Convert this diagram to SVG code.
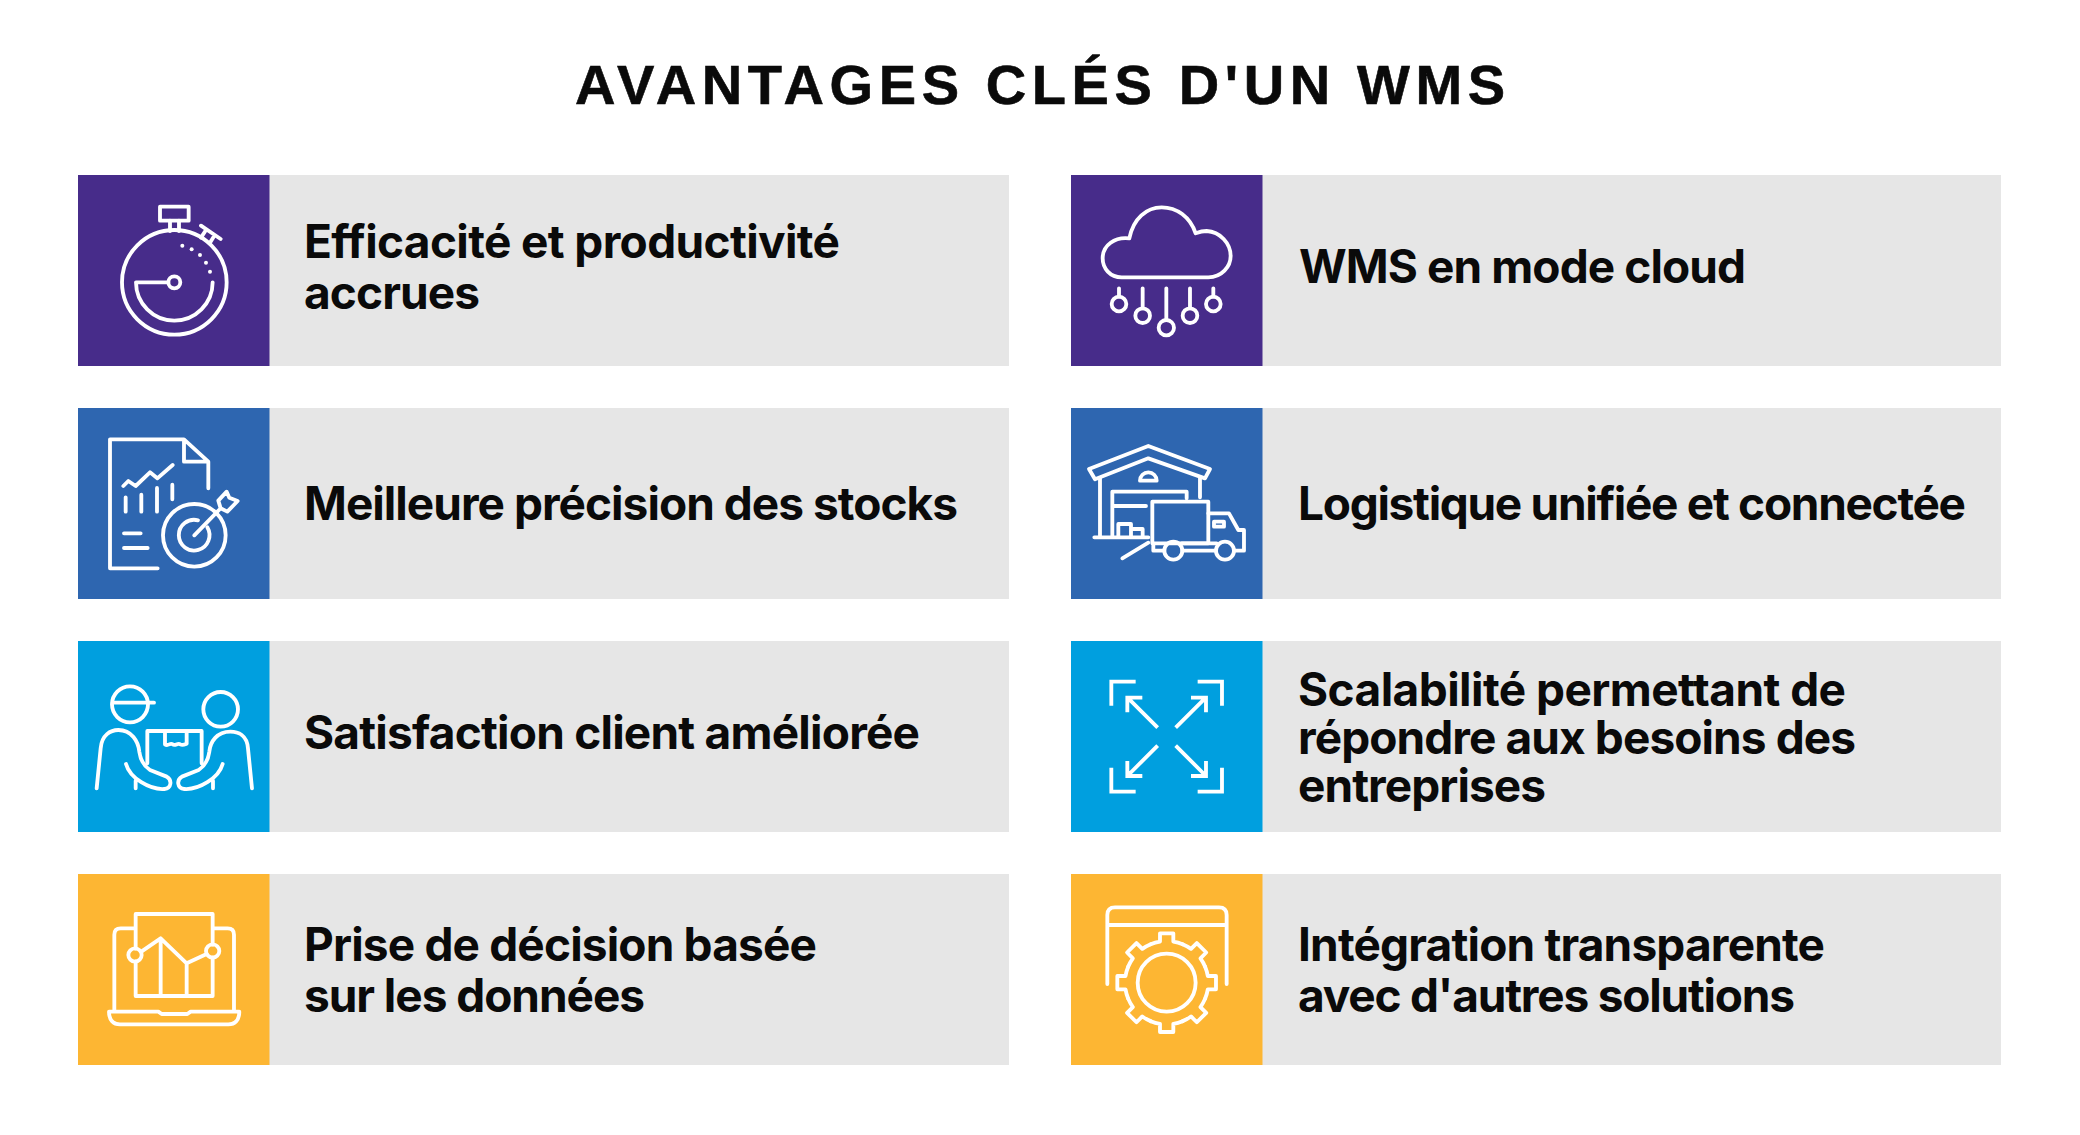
<svg xmlns="http://www.w3.org/2000/svg" xmlns:xlink="http://www.w3.org/1999/xlink" width="2080" height="1135" viewBox="0 0 2080 1135">
<style>
.bar{fill:#e6e6e6}
.p{fill:#472c8a}.b{fill:#2e66b0}.c{fill:#009fdf}.y{fill:#fdb633}
.t{font-family:"Inter","Liberation Sans",sans-serif;font-weight:700;font-size:46px;fill:#0a0a0a}
.h{font-family:"Liberation Sans",Arial,sans-serif;font-weight:700;font-size:56px;fill:#0a0a0a;stroke:#0a0a0a;stroke-width:.6}
.i{fill:none;stroke:#fff;stroke-width:11.500;stroke-linecap:round;stroke-linejoin:round}
.s{stroke-linecap:butt;stroke-linejoin:miter}
.d{fill:#fff;stroke:none}
</style>
<defs>
<path id="tooth" d="M-47.8-115.5A125 125 0 0 1-20-123.4V-148H20V-123.4A125 125 0 0 1 47.8-115.5"/>
</defs>
<rect width="2080" height="1135" fill="#fff"/>
<text class="h" x="575" y="104" textLength="930">AVANTAGES CLÉS D'UN WMS</text>

<g id="node-efficacite">
<rect class="bar" x="269" y="175" width="740" height="191"/>
<rect class="p" x="78" y="175" width="191.500" height="191"/>
<text class="t" x="304" y="258" textLength="536">Efficacité et productivité</text>
<text class="t" x="304" y="309" textLength="176">accrues</text>
<g transform="translate(70 170) scale(.3333)" class="i">
<circle cx="313" cy="337" r="157"/>
<rect x="270" y="110" width="86" height="42"/>
<path d="M300 152V183M327 152V183M393 167L452 207M408 180L393 203M433 197L420 218M198 337H295M198 337A115 115 0 0 0 428 337"/>
<circle cx="313" cy="337" r="18"/>
<circle class="d" cx="337" cy="227" r="6"/><circle class="d" cx="365" cy="238" r="6"/><circle class="d" cx="390" cy="255" r="6"/><circle class="d" cx="408" cy="278" r="6"/><circle class="d" cx="420" cy="305" r="6"/>
</g>
</g>

<g id="node-precision">
<rect class="bar" x="269" y="408" width="740" height="191"/>
<rect class="b" x="78" y="408" width="191.500" height="191"/>
<text class="t" x="304" y="520" textLength="654">Meilleure précision des stocks</text>
<g transform="translate(70 400) scale(.3333)" class="i">
<path d="M415 265V185L342 118H120V505H263M342 118V185H415"/>
<path d="M160 258L175 243L197 258L240 217L262 235L308 195M167 292V335M214 284V335M261 264V335M307 254V298M162 400H212M162 444H233"/>
<circle cx="373" cy="406" r="94"/>
<path d="M412 382A46 46 0 1 1 384 361"/>
<path d="M373 406L450 327M445 302L470 275L478 293L503 303L472 335L452 325Z"/>
</g>
</g>

<g id="node-satisfaction">
<rect class="bar" x="269" y="641" width="740" height="191"/>
<rect class="c" x="78" y="641" width="191.500" height="191"/>
<text class="t" x="304" y="749" textLength="616">Satisfaction client améliorée</text>
<g transform="translate(70 635) scale(.3333)" class="i">
<circle cx="180" cy="208" r="54"/>
<path d="M128 203H252"/>
<circle cx="452" cy="223" r="52"/>
<path id="arm" d="M80 460L92 340C95 300 122 285 145 285C185 285 205 320 208 350C212 380 225 395 240 405L290 425C307 435 305 460 283 462C240 465 180 430 168 387M197 460V437"/>
<path d="M546 460L534 340C531 300 504 290 481 290C441 290 421 320 418 350C414 380 401 395 386 405L336 425C319 435 321 460 343 462C386 465 446 430 458 387M429 460V437"/>
<path d="M232 385V288H395V385M285 288V328C295 335 300 322 308 328C316 335 322 322 331 328C338 332 345 328 350 326V288"/>
</g>
</g>

<g id="node-decision">
<rect class="bar" x="269" y="874" width="740" height="191"/>
<rect class="y" x="78" y="874" width="191.500" height="191"/>
<text class="t" x="304" y="961" textLength="513">Prise de décision basée</text>
<text class="t" x="304" y="1012" textLength="341">sur les données</text>
<g transform="translate(70 870) scale(.3333)" class="i">
<path d="M195 175H152Q133 175 133 194V420M432 175H473Q492 175 492 194V420"/>
<path d="M117 425H265L275 432H352L362 425H508C508 450 495 463 475 463H150C130 463 117 450 117 425Z"/>
<path d="M197 236V132H428V224M428 262V378H197V274"/>
<circle cx="195" cy="255" r="20"/>
<circle cx="428" cy="243" r="20"/>
<path d="M214 245L272 205L350 280L410 252M272 205V378M350 280V378"/>
</g>
</g>

<g id="node-cloud">
<rect class="bar" x="1262" y="175" width="739" height="191"/>
<rect class="p" x="1071" y="175" width="191.500" height="191"/>
<text class="t" x="1299" y="283" textLength="447">WMS en mode cloud</text>
<g transform="translate(1065 170) scale(.3333)" class="i">
<path d="M170 322H430C470 322 497 290 497 258C497 220 465 185 425 183C415 183 400 187 392 190C375 140 335 112 290 112C245 112 205 145 193 205C150 200 113 225 113 265C113 295 135 322 170 322Z"/>
<path d="M162 355V380M233 355V415M304 355V450M375 355V415M445 355V380"/>
<circle cx="162" cy="402" r="22"/><circle cx="233" cy="437" r="22"/><circle cx="304" cy="473" r="23"/><circle cx="375" cy="437" r="22"/><circle cx="445" cy="402" r="22"/>
</g>
</g>

<g id="node-logistique">
<rect class="bar" x="1262" y="408" width="739" height="191"/>
<rect class="b" x="1071" y="408" width="191.500" height="191"/>
<text class="t" x="1298" y="520" textLength="668">Logistique unifiée et connectée</text>
<g transform="translate(1065 400) scale(.3333)" class="i">
<path d="M72 207L250 138L435 207L420 235L250 175L90 238Z"/>
<path d="M105 235V412M405 235V292M88 412H250M142 412V275H365V295M142 318H243"/>
<path d="M225 242A25 25 0 0 1 275 242Z"/>
<path d="M160 410V372H198V410M198 387H233V410"/>
<rect x="262" y="305" width="168" height="125"/>
<path d="M172 475L250 428"/>
<path d="M430 340H492L520 390H537V452H510M265 430V452H298M352 452H452M350 430H455"/>
<rect x="447" y="365" width="30" height="15"/>
<circle cx="325" cy="452" r="27"/><circle cx="480" cy="452" r="27"/>
</g>
</g>

<g id="node-scalabilite">
<rect class="bar" x="1262" y="641" width="739" height="191"/>
<rect class="c" x="1071" y="641" width="191.500" height="191"/>
<text class="t" x="1298" y="706" textLength="548">Scalabilité permettant de</text>
<text class="t" x="1298" y="754" textLength="558">répondre aux besoins des</text>
<text class="t" x="1298" y="802" textLength="248">entreprises</text>
<g transform="translate(1065 635) scale(.3333)" class="i s">
<path d="M139 212V140H212M398 140H471V212M139 398V470H212M398 470H471V398"/>
<path d="M278 278L190 190M187 232V188H232M332 278L420 190M378 188H423V232M278 332L190 420M187 378V423H232M332 332L420 420M378 423H423V378"/>
</g>
</g>

<g id="node-integration">
<rect class="bar" x="1262" y="874" width="739" height="191"/>
<rect class="y" x="1071" y="874" width="191.500" height="191"/>
<text class="t" x="1298" y="961" textLength="527">Intégration transparente</text>
<text class="t" x="1298" y="1012" textLength="497">avec d'autres solutions</text>
<g transform="translate(1065 870) scale(.3333)" class="i">
<path d="M127 342V135Q127 112 150 112H462Q485 112 485 135V342M127 165H485"/>
<circle cx="305" cy="338" r="87"/>
<g transform="translate(305 338)">
<use xlink:href="#tooth"/>
<use xlink:href="#tooth" transform="rotate(45)"/>
<use xlink:href="#tooth" transform="rotate(90)"/>
<use xlink:href="#tooth" transform="rotate(135)"/>
<use xlink:href="#tooth" transform="rotate(180)"/>
<use xlink:href="#tooth" transform="rotate(225)"/>
<use xlink:href="#tooth" transform="rotate(270)"/>
<use xlink:href="#tooth" transform="rotate(315)"/>
</g>
</g>
</g>
<g id="connectors"></g>
</svg>
